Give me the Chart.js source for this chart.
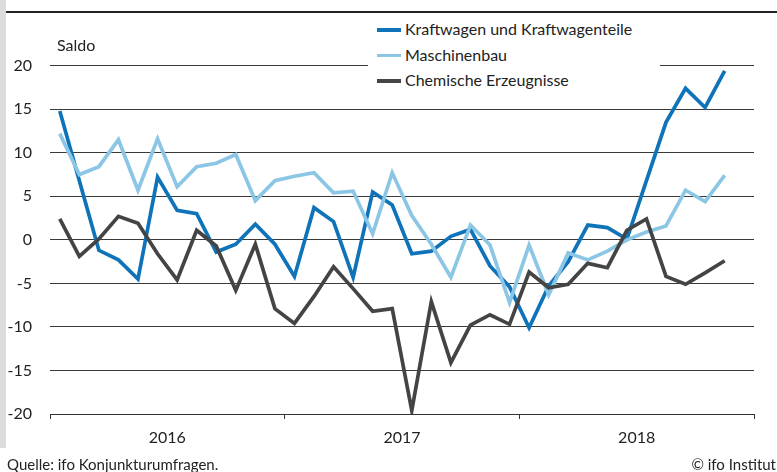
<!DOCTYPE html>
<html>
<head>
<meta charset="utf-8">
<script src="https://cdn.jsdelivr.net/npm/chart.js@4.4.0/dist/chart.umd.min.js"></script>
<style>
  body { margin: 0; background: #fff; font-family: Lato, sans-serif; color: #222; }
  #wrap { position: relative; width: 777px; height: 472px; overflow: hidden; }
  #strip { position: absolute; left: 0; top: 0; width: 6px; height: 448px; background: #dcdcdc; }
  #topline { position: absolute; left: 6px; right: 0; top: 11px; height: 2px; background: #222; }
  canvas { position: absolute; left: 0; top: 0; }
  .txt { position: absolute; font-size: 16px; white-space: nowrap; }
  #legend { position: absolute; left: 368px; top: 16px; width: 292px; height: 76px; background: #fff; }
  .item { position: absolute; left: 9px; height: 20px; font-size: 16px; line-height: 20px; }
  .item span { display: inline-block; width: 24px; height: 3.5px; vertical-align: middle; margin-right: 4px; margin-top: -2px; }
</style>
</head>
<body>
<div id="wrap">
  <div id="strip"></div>
  <div id="topline"></div>
  <canvas id="c" width="777" height="472"></canvas>
  <div class="txt" style="left:57px; top:35px;">Saldo</div>
  <div id="legend"></div>
  <div class="txt" style="left:7px; top:455px; font-size:15px;">Quelle: ifo Konjunkturumfragen.</div>
  <div class="txt" style="right:1px; top:455px; font-size:15px;">© ifo Institut</div>
</div>
<script>
const yearLabels = ['2016', '2017', '2018']
const seriesNames = ['Kraftwagen und Kraftwagenteile', 'Maschinenbau', 'Chemische Erzeugnisse']
const seriesColors = ['#0f73b9', '#8cc6e5', '#444444']

// monthly balances, Jan 2016 - Nov 2018
const kraftwagen = [14.8, 6.8, -1.2, -2.3, -4.5, 7.2, 3.4, 3.0, -1.4, -0.5, 1.8, -0.5,
  -4.2, 3.7, 2.1, -4.3, 5.5, 4.0, -1.6, -1.3, 0.4, 1.2, -3.0, -5.4,
  -10.1, -5.3, -2.5, 1.7, 1.4, 0.1, 6.8, 13.5, 17.4, 15.2, 19.4]
const maschinenbau = [12.2, 7.5, 8.4, 11.5, 5.7, 11.6, 6.1, 8.4, 8.8, 9.8, 4.5, 6.8,
  7.3, 7.7, 5.4, 5.6, 0.7, 7.7, 2.8, -0.5, -4.3, 1.7, -0.6, -7.2,
  -0.6, -6.3, -1.5, -2.3, -1.3, 0.0, 0.9, 1.6, 5.7, 4.4, 7.4]
const chemie = [2.4, -1.9, 0.1, 2.7, 1.9, -1.6, -4.6, 1.1, -0.7, -5.8, -0.5, -7.9,
  -9.6, -6.5, -3.1, -5.6, -8.2, -7.9, -19.6, -7.1, -14.1, -9.8, -8.6, -9.7,
  -3.7, -5.5, -5.1, -2.7, -3.2, 1.1, 2.4, -4.2, -5.1, -3.8, -2.4]

const monthsTotal = yearLabels.length * 12
const toPoints = (arr) => arr.map((v, i) => ({ x: i + 0.5, y: v }))

const allSeries = [kraftwagen, maschinenbau, chemie]

// html legend
const legendEl = document.getElementById('legend')
seriesNames.forEach((name, i) => {
  const d = document.createElement('div')
  d.className = 'item'
  d.style.top = (3 + i * 25.5) + 'px'
  d.innerHTML = '<span style="background:' + seriesColors[i] + '"></span>' + name
  legendEl.appendChild(d)
})

new Chart(document.getElementById('c'), {
  type: 'line',
  data: {
    datasets: allSeries.map((arr, i) => ({
      label: seriesNames[i],
      data: toPoints(arr),
      borderColor: seriesColors[i],
      backgroundColor: seriesColors[i],
      borderWidth: 3.7,
      pointRadius: 0,
      tension: 0,
      fill: false,
    })).reverse(),
  },
  options: {
    responsive: false,
    animation: false,
    layout: { padding: { left: 8, right: 23, top: 65.7, bottom: 14.8 } },
    plugins: { legend: { display: false }, tooltip: { enabled: false } },
    scales: {
      x: {
        type: 'linear',
        min: 0,
        max: monthsTotal,
        position: 'bottom',
        afterBuildTicks: (s) => { s.ticks = [0, 12, 24, 36].map((v) => ({ value: v })) },
        ticks: { display: false },
        grid: { drawOnChartArea: false, drawTicks: true, tickLength: 5, color: '#333', lineWidth: 1 },
        border: { display: true, color: '#333', width: 1 },
      },
      years: {
        type: 'linear',
        min: 0,
        max: monthsTotal,
        position: 'bottom',
        afterBuildTicks: (s) => { s.ticks = yearLabels.map((y, i) => ({ value: i * 12 + 6 })) },
        ticks: {
          padding: 9.5,
          color: '#222',
          font: { family: 'Lato', size: 16 },
          callback: (v) => yearLabels[Math.round((v - 6) / 12)],
          maxRotation: 0,
        },
        grid: { display: false, drawTicks: false },
        border: { display: false },
      },
      y: {
        min: -20,
        max: 20,
        afterFit: (s) => { s.width = 42 },
        ticks: { stepSize: 5, padding: 18, color: '#222', font: { family: 'Lato', size: 16 } },
        grid: { color: '#3a3a3a', lineWidth: 1, drawTicks: false },
        border: { display: false },
      },
    },
  },
})
</script>
</body>
</html>
